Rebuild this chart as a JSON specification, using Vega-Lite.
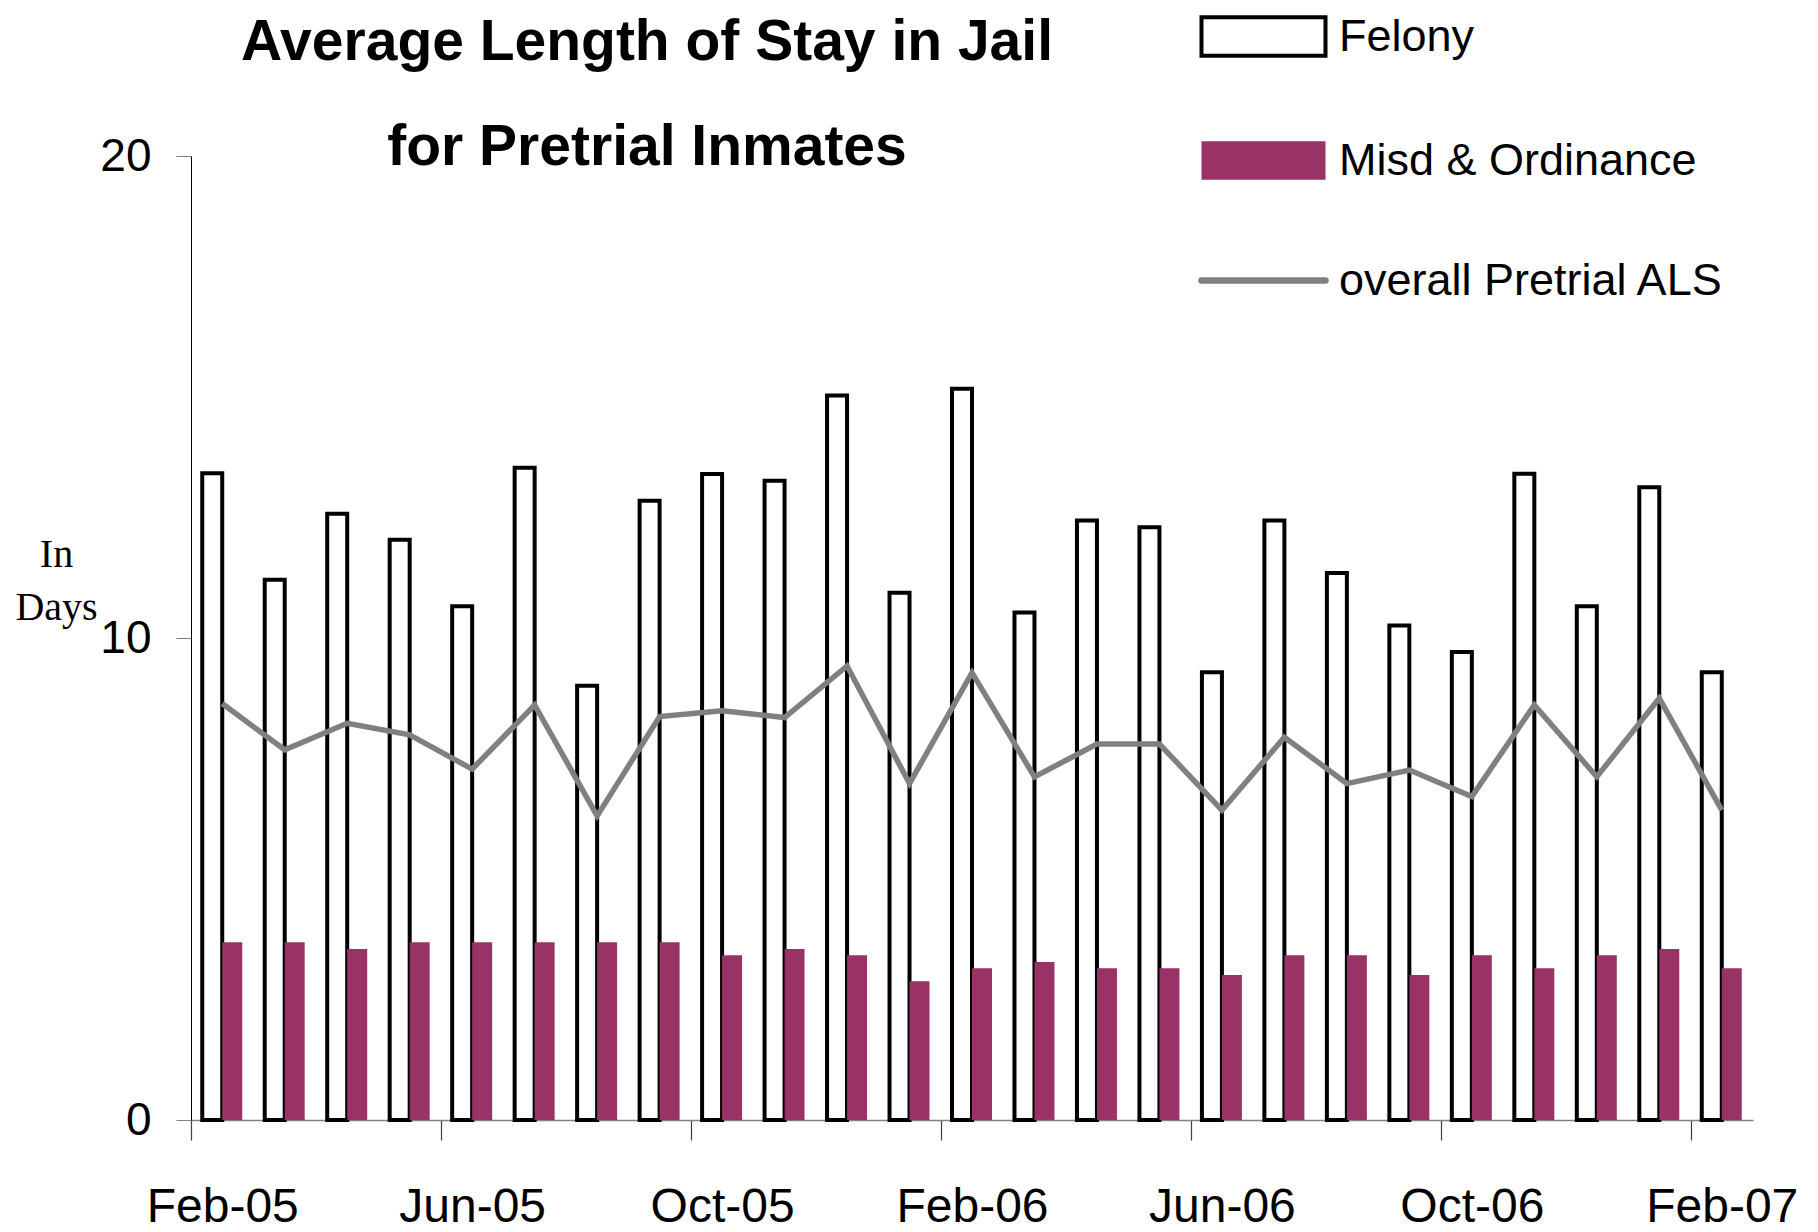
{
  "$schema": "https://vega.github.io/schema/vega-lite/v6.json",
  "width": 1562,
  "height": 964,
  "autosize": {"type": "none"},
  "padding": {"left": 191, "top": 156, "right": 65, "bottom": 112},
  "background": "white",
  "config": {"view": {"stroke": null}, "font": "Liberation Sans"},
  "title": {
    "text": ["Average Length of Stay in Jail", "for Pretrial Inmates"],
    "font": "Liberation Sans",
    "fontWeight": "bold",
    "fontSize": 57,
    "lineHeight": 105,
    "anchor": "start",
    "frame": "group",
    "align": "center",
    "baseline": "top",
    "dx": 456,
    "dy": 163,
    "offset": 0,
    "color": "black"
  },
  "data": {
    "values": [
      {"month": "Feb-05", "series": "Felony", "value": 13.42},
      {"month": "Mar-05", "series": "Felony", "value": 11.21},
      {"month": "Apr-05", "series": "Felony", "value": 12.58},
      {"month": "May-05", "series": "Felony", "value": 12.04},
      {"month": "Jun-05", "series": "Felony", "value": 10.66},
      {"month": "Jul-05", "series": "Felony", "value": 13.53},
      {"month": "Aug-05", "series": "Felony", "value": 9.01},
      {"month": "Sep-05", "series": "Felony", "value": 12.85},
      {"month": "Oct-05", "series": "Felony", "value": 13.40},
      {"month": "Nov-05", "series": "Felony", "value": 13.26},
      {"month": "Dec-05", "series": "Felony", "value": 15.03},
      {"month": "Jan-06", "series": "Felony", "value": 10.94},
      {"month": "Feb-06", "series": "Felony", "value": 15.17},
      {"month": "Mar-06", "series": "Felony", "value": 10.53},
      {"month": "Apr-06", "series": "Felony", "value": 12.44},
      {"month": "May-06", "series": "Felony", "value": 12.30},
      {"month": "Jun-06", "series": "Felony", "value": 9.29},
      {"month": "Jul-06", "series": "Felony", "value": 12.44},
      {"month": "Aug-06", "series": "Felony", "value": 11.35},
      {"month": "Sep-06", "series": "Felony", "value": 10.26},
      {"month": "Oct-06", "series": "Felony", "value": 9.71},
      {"month": "Nov-06", "series": "Felony", "value": 13.41},
      {"month": "Dec-06", "series": "Felony", "value": 10.66},
      {"month": "Jan-07", "series": "Felony", "value": 13.13},
      {"month": "Feb-07", "series": "Felony", "value": 9.29},
      {"month": "Feb-05", "series": "Misd & Ordinance", "value": 3.69},
      {"month": "Mar-05", "series": "Misd & Ordinance", "value": 3.69},
      {"month": "Apr-05", "series": "Misd & Ordinance", "value": 3.55},
      {"month": "May-05", "series": "Misd & Ordinance", "value": 3.69},
      {"month": "Jun-05", "series": "Misd & Ordinance", "value": 3.69},
      {"month": "Jul-05", "series": "Misd & Ordinance", "value": 3.69},
      {"month": "Aug-05", "series": "Misd & Ordinance", "value": 3.69},
      {"month": "Sep-05", "series": "Misd & Ordinance", "value": 3.69},
      {"month": "Oct-05", "series": "Misd & Ordinance", "value": 3.42},
      {"month": "Nov-05", "series": "Misd & Ordinance", "value": 3.55},
      {"month": "Dec-05", "series": "Misd & Ordinance", "value": 3.42},
      {"month": "Jan-06", "series": "Misd & Ordinance", "value": 2.88},
      {"month": "Feb-06", "series": "Misd & Ordinance", "value": 3.15},
      {"month": "Mar-06", "series": "Misd & Ordinance", "value": 3.28},
      {"month": "Apr-06", "series": "Misd & Ordinance", "value": 3.15},
      {"month": "May-06", "series": "Misd & Ordinance", "value": 3.15},
      {"month": "Jun-06", "series": "Misd & Ordinance", "value": 3.01},
      {"month": "Jul-06", "series": "Misd & Ordinance", "value": 3.42},
      {"month": "Aug-06", "series": "Misd & Ordinance", "value": 3.42},
      {"month": "Sep-06", "series": "Misd & Ordinance", "value": 3.01},
      {"month": "Oct-06", "series": "Misd & Ordinance", "value": 3.42},
      {"month": "Nov-06", "series": "Misd & Ordinance", "value": 3.15},
      {"month": "Dec-06", "series": "Misd & Ordinance", "value": 3.42},
      {"month": "Jan-07", "series": "Misd & Ordinance", "value": 3.55},
      {"month": "Feb-07", "series": "Misd & Ordinance", "value": 3.15},
      {"month": "Feb-05", "series": "overall Pretrial ALS", "value": 8.64},
      {"month": "Mar-05", "series": "overall Pretrial ALS", "value": 7.68},
      {"month": "Apr-05", "series": "overall Pretrial ALS", "value": 8.23},
      {"month": "May-05", "series": "overall Pretrial ALS", "value": 7.99},
      {"month": "Jun-05", "series": "overall Pretrial ALS", "value": 7.28},
      {"month": "Jul-05", "series": "overall Pretrial ALS", "value": 8.61},
      {"month": "Aug-05", "series": "overall Pretrial ALS", "value": 6.31},
      {"month": "Sep-05", "series": "overall Pretrial ALS", "value": 8.37},
      {"month": "Oct-05", "series": "overall Pretrial ALS", "value": 8.49},
      {"month": "Nov-05", "series": "overall Pretrial ALS", "value": 8.35},
      {"month": "Dec-05", "series": "overall Pretrial ALS", "value": 9.42},
      {"month": "Jan-06", "series": "overall Pretrial ALS", "value": 6.98},
      {"month": "Feb-06", "series": "overall Pretrial ALS", "value": 9.28},
      {"month": "Mar-06", "series": "overall Pretrial ALS", "value": 7.12},
      {"month": "Apr-06", "series": "overall Pretrial ALS", "value": 7.80},
      {"month": "May-06", "series": "overall Pretrial ALS", "value": 7.80},
      {"month": "Jun-06", "series": "overall Pretrial ALS", "value": 6.43},
      {"month": "Jul-06", "series": "overall Pretrial ALS", "value": 7.94},
      {"month": "Aug-06", "series": "overall Pretrial ALS", "value": 6.98},
      {"month": "Sep-06", "series": "overall Pretrial ALS", "value": 7.26},
      {"month": "Oct-06", "series": "overall Pretrial ALS", "value": 6.71},
      {"month": "Nov-06", "series": "overall Pretrial ALS", "value": 8.61},
      {"month": "Dec-06", "series": "overall Pretrial ALS", "value": 7.12},
      {"month": "Jan-07", "series": "overall Pretrial ALS", "value": 8.75},
      {"month": "Feb-07", "series": "overall Pretrial ALS", "value": 6.43}
    ]
  },
  "encoding": {
    "x": {
      "field": "month",
      "type": "ordinal",
      "sort": null,
      "scale": {"paddingInner": 0.36, "paddingOuter": 0.18},
      "axis": {
        "values": ["Feb-05", "Jun-05", "Oct-05", "Feb-06", "Jun-06", "Oct-06", "Feb-07"],
        "title": null,
        "labelAngle": 0,
        "bandPosition": 0,
        "tickOffset": -11.25,
        "labelOffset": 11.25,
        "tickSize": 20,
        "tickColor": "#404040",
        "tickWidth": 1.2,
        "domainColor": "#808080",
        "domainWidth": 1.5,
        "labelFont": "Liberation Sans",
        "labelFontSize": 48,
        "labelPadding": 43,
        "labelColor": "black",
        "labelAlign": "center"
      }
    }
  },
  "layer": [
    {
      "transform": [{"filter": "datum.series !== 'overall Pretrial ALS'"}],
      "mark": {"type": "bar"},
      "encoding": {
        "xOffset": {
          "field": "series",
          "type": "nominal",
          "sort": ["Felony", "Misd & Ordinance"],
          "scale": {"paddingInner": 0, "paddingOuter": 0}
        },
        "y": {
          "field": "value",
          "type": "quantitative",
          "scale": {"domain": [0, 20], "nice": false},
          "axis": {
            "values": [0, 10, 20],
            "grid": false,
            "title": ["In", "Days"],
            "titleFont": "Liberation Serif",
            "titleFontSize": 40,
            "titleFontWeight": "normal",
            "titleColor": "black",
            "titleAngle": 0,
            "titleAlign": "center",
            "titleBaseline": "alphabetic",
            "titleX": -135,
            "titleY": 410,
            "titleLineHeight": 53,
            "labelFont": "Liberation Sans",
            "labelFontSize": 46,
            "labelPadding": 25,
            "labelColor": "black",
            "tickSize": 15,
            "tickColor": "#808080",
            "domainColor": "black",
            "domainWidth": 1
          }
        },
        "fill": {
          "field": "series",
          "type": "nominal",
          "scale": {
            "domain": ["Felony", "Misd & Ordinance", "overall Pretrial ALS"],
            "range": ["white", "#993366", "transparent"]
          },
          "legend": {
            "orient": "none",
            "legendX": 1050,
            "legendY": -142,
            "title": null,
            "padding": 0,
            "symbolType": "M-1,-0.31H1V0.31H-1Z",
            "symbolSize": 15376,
            "labelFont": "Liberation Sans",
            "labelFontSize": 45,
            "labelColor": "black",
            "labelOffset": 53,
            "labelLimit": 700,
            "rowPadding": 74,
            "symbolStrokeWidth": 4,
            "encode": {
              "symbols": {
                "update": {
                  "shape": {"signal": "datum.value === 'overall Pretrial ALS' ? 'M-1,0H1' : 'M-1,-0.31H1V0.31H-1Z'"},
                  "strokeWidth": {"signal": "datum.value === 'Felony' ? 4 : datum.value === 'overall Pretrial ALS' ? 6.5 : 0"},
                  "strokeCap": {"value": "round"}
                }
              }
            }
          }
        },
        "stroke": {
          "field": "series",
          "type": "nominal",
          "scale": {
            "domain": ["Felony", "Misd & Ordinance", "overall Pretrial ALS"],
            "range": ["black", "#993366", "#808080"]
          },
          "legend": {
            "orient": "none",
            "legendX": 1050,
            "legendY": -142,
            "title": null,
            "padding": 0,
            "symbolType": "M-1,-0.31H1V0.31H-1Z",
            "symbolSize": 15376,
            "labelFont": "Liberation Sans",
            "labelFontSize": 45,
            "labelColor": "black",
            "labelOffset": 53,
            "labelLimit": 700,
            "rowPadding": 74,
            "symbolStrokeWidth": 4,
            "encode": {
              "symbols": {
                "update": {
                  "shape": {"signal": "datum.value === 'overall Pretrial ALS' ? 'M-1,0H1' : 'M-1,-0.31H1V0.31H-1Z'"},
                  "strokeWidth": {"signal": "datum.value === 'Felony' ? 4 : datum.value === 'overall Pretrial ALS' ? 6.5 : 0"},
                  "strokeCap": {"value": "round"}
                }
              }
            }
          }
        },
        "strokeWidth": {"condition": {"test": "datum.series === 'Felony'", "value": 4}, "value": 0}
      }
    },
    {
      "transform": [{"filter": "datum.series === 'overall Pretrial ALS'"}],
      "mark": {"type": "line", "strokeWidth": 5.5, "strokeJoin": "miter"},
      "encoding": {
        "y": {"field": "value", "type": "quantitative"},
        "stroke": {"field": "series", "type": "nominal"}
      }
    }
  ]
}
